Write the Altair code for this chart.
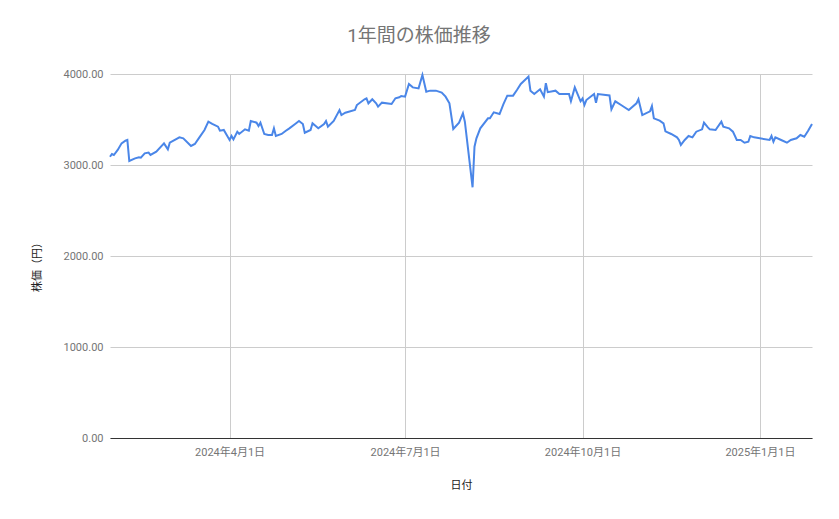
import altair as alt
import pandas as pd

dates = [
    "2024-01-30", "2024-01-31", "2024-02-01", "2024-02-03", "2024-02-05", "2024-02-07",
    "2024-02-08", "2024-02-09", "2024-02-12", "2024-02-14", "2024-02-15", "2024-02-17",
    "2024-02-19", "2024-02-20", "2024-02-23", "2024-02-27", "2024-02-29", "2024-03-01",
    "2024-03-06", "2024-03-08", "2024-03-12", "2024-03-14", "2024-03-16", "2024-03-19",
    "2024-03-21", "2024-03-23", "2024-03-26", "2024-03-27", "2024-03-29", "2024-04-01",
    "2024-04-02", "2024-04-03", "2024-04-05", "2024-04-06", "2024-04-09", "2024-04-11",
    "2024-04-12", "2024-04-15", "2024-04-16", "2024-04-17", "2024-04-19", "2024-04-21",
    "2024-04-23", "2024-04-24", "2024-04-25", "2024-04-28", "2024-04-30", "2024-05-02",
    "2024-05-05", "2024-05-07", "2024-05-09", "2024-05-10", "2024-05-13", "2024-05-14",
    "2024-05-17", "2024-05-20", "2024-05-21", "2024-05-22", "2024-05-25", "2024-05-28",
    "2024-05-29", "2024-05-31", "2024-06-05", "2024-06-06", "2024-06-10", "2024-06-11",
    "2024-06-12", "2024-06-14", "2024-06-16", "2024-06-17", "2024-06-19", "2024-06-24",
    "2024-06-26", "2024-06-28", "2024-06-29", "2024-07-01", "2024-07-03", "2024-07-05",
    "2024-07-08", "2024-07-10", "2024-07-12", "2024-07-14", "2024-07-17", "2024-07-20",
    "2024-07-22", "2024-07-24", "2024-07-26", "2024-07-29", "2024-07-31", "2024-08-01",
    "2024-08-05", "2024-08-06", "2024-08-07", "2024-08-09", "2024-08-13", "2024-08-14",
    "2024-08-16", "2024-08-19", "2024-08-21", "2024-08-23", "2024-08-26", "2024-08-28",
    "2024-08-30", "2024-09-03", "2024-09-04", "2024-09-06", "2024-09-09", "2024-09-11",
    "2024-09-12", "2024-09-13", "2024-09-17", "2024-09-19", "2024-09-24", "2024-09-25",
    "2024-09-27", "2024-09-30", "2024-10-01", "2024-10-02", "2024-10-03", "2024-10-07",
    "2024-10-08", "2024-10-09", "2024-10-15", "2024-10-16", "2024-10-18", "2024-10-21",
    "2024-10-25", "2024-10-29", "2024-10-30", "2024-11-01", "2024-11-05", "2024-11-06",
    "2024-11-07", "2024-11-10", "2024-11-12", "2024-11-13", "2024-11-16", "2024-11-19",
    "2024-11-20", "2024-11-21", "2024-11-23", "2024-11-25", "2024-11-27", "2024-11-29",
    "2024-12-02", "2024-12-03", "2024-12-05", "2024-12-06", "2024-12-09", "2024-12-12",
    "2024-12-13", "2024-12-16", "2024-12-18", "2024-12-20", "2024-12-22", "2024-12-24",
    "2024-12-26", "2024-12-27", "2024-12-29", "2025-01-06", "2025-01-07", "2025-01-08",
    "2025-01-09", "2025-01-12", "2025-01-15", "2025-01-17", "2025-01-20", "2025-01-22",
    "2025-01-24", "2025-01-26", "2025-01-28",
]

prices = [
    3091, 3121, 3110, 3165, 3238, 3267,
    3275, 3044, 3073, 3085, 3080, 3128,
    3136, 3110, 3146, 3238, 3172, 3245,
    3304, 3293, 3209, 3231, 3293, 3385,
    3476, 3451, 3421, 3377, 3385, 3275,
    3319, 3282, 3366, 3341, 3392, 3377,
    3484, 3465, 3429, 3465, 3341, 3330,
    3330, 3403, 3319, 3341, 3374, 3403,
    3451, 3484, 3451, 3355, 3385, 3458,
    3403, 3451, 3484, 3421, 3484, 3604,
    3549, 3575, 3604, 3659, 3722, 3733,
    3678, 3722, 3678, 3641, 3685, 3670,
    3733, 3744, 3758, 3751, 3890, 3853,
    3842, 3989, 3806, 3817, 3817, 3795,
    3751, 3678, 3396, 3465, 3568, 3476,
    2755, 3201, 3293, 3403, 3513, 3513,
    3579, 3560, 3670, 3762, 3762, 3824,
    3890, 3971, 3817, 3780, 3832, 3751,
    3900, 3800, 3817, 3780, 3780, 3700,
    3853, 3700, 3730, 3659, 3714, 3780,
    3685, 3780, 3765, 3612, 3700, 3659,
    3604, 3678, 3722, 3549, 3590, 3648,
    3513, 3487, 3458, 3370, 3341, 3304,
    3275, 3220, 3275, 3319, 3304, 3366,
    3392, 3465, 3414, 3392, 3385, 3476,
    3421, 3403, 3366, 3275, 3275, 3245,
    3256, 3319, 3304, 3275, 3319, 3256,
    3304, 3275, 3245, 3275, 3293, 3330,
    3311, 3377, 3451,
]

tick_dates = ["2024-04-01", "2024-07-01", "2024-10-01", "2025-01-01"]
y_ticks = [0, 1000, 2000, 3000, 4000]

df = pd.DataFrame({"日付": dates, "株価": prices})

FONT = "Roboto, 'Noto Sans CJK JP', sans-serif"

def dt(s):
    y, m, d = (int(v) for v in s.split("-"))
    return alt.DateTime(year=y, month=m, date=d, utc=True)

chart = (
    alt.Chart(df)
    .mark_line(color="#4a86e8", strokeWidth=2)
    .encode(
        x=alt.X(
            "日付:T",
            scale=alt.Scale(type="utc", domain=[dt(dates[0]), dt(dates[-1])], nice=False),
            axis=alt.Axis(
                title="日付",
                values=[dt(s) for s in tick_dates],
                labelExpr="utcFormat(datum.value, '%Y') + '年' + utcFormat(datum.value, '%-m') + '月' + utcFormat(datum.value, '%-d') + '日'",
                grid=True,
                gridColor="#cccccc",
                ticks=False,
                domain=True,
                domainColor="#333333",
                labelColor="#757575",
                labelFontSize=11,
                labelPadding=8,
                titleColor="#222222",
                titleFontSize=11,
                titleFontWeight="normal",
                titlePadding=22,
            ),
        ),
        y=alt.Y(
            "株価:Q",
            scale=alt.Scale(domain=[0, 4000], nice=False),
            axis=alt.Axis(
                title="株価（円）",
                values=y_ticks,
                format=".2f",
                grid=True,
                gridColor="#cccccc",
                ticks=False,
                domain=False,
                labelColor="#757575",
                labelFontSize=11,
                labelPadding=7,
                titleColor="#222222",
                titleFontSize=11,
                titleFontWeight="normal",
                titleX=-73,
                titleY=190,
                titleAngle=270,
                titleAlign="center",
                titleBaseline="middle",
            ),
        ),
    )
    .properties(
        width=702,
        height=364,
        title=alt.TitleParams(
            "1年間の株価推移",
            fontSize=19,
            fontWeight="normal",
            color="#757575",
            font=FONT,
            anchor="middle",
            dx=-42,
            offset=22,
        ),
        autosize=alt.AutoSizeParams(type="none"),
        padding={"left": 102, "top": 66, "right": 19, "bottom": 73},
    )
    .configure(font=FONT)
    .configure_view(stroke=None)
)

chart.save("out.html", embed_options={"renderer": "svg", "actions": False})
